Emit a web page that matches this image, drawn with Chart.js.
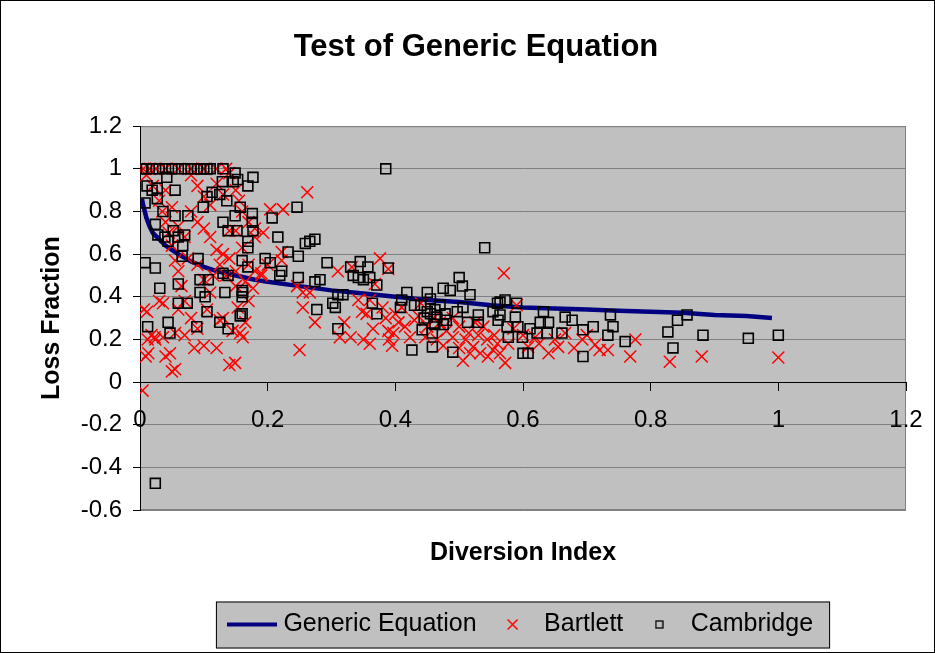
<!DOCTYPE html>
<html>
<head>
<meta charset="utf-8">
<script src="https://cdn.jsdelivr.net/npm/chart.js@4/dist/chart.umd.min.js"></script>
<style>
  html, body { margin: 0; padding: 0; background: #fff; }
  #wrap { width: 935px; height: 653px; }
</style>
</head>
<body>
<div id="wrap"><canvas id="chart" width="935" height="653"></canvas></div>
<script>
// values
var xTicks = [0, 0.2, 0.4, 0.6, 0.8, 1, 1.2];
var yTicks = [-0.6, -0.4, -0.2, 0, 0.2, 0.4, 0.6, 0.8, 1, 1.2];

var generic = [[0.003,0.86],[0.005,0.83],[0.01,0.77],[0.015,0.73],[0.02,0.70],[0.03,0.67],[0.04,0.64],
  [0.05,0.62],[0.06,0.60],[0.08,0.565],[0.10,0.54],[0.12,0.52],[0.15,0.50],[0.18,0.48],[0.20,0.47],
  [0.25,0.45],[0.30,0.43],[0.35,0.415],[0.40,0.40],[0.45,0.385],[0.50,0.375],[0.55,0.36],[0.60,0.35],
  [0.65,0.345],[0.70,0.34],[0.75,0.335],[0.80,0.33],[0.85,0.325],[0.90,0.315],[0.95,0.31],[0.99,0.30]];

var bartlett = [[0.004,-0.04],[0.006,0.34],[0.009,0.12],[0.012,0.20],[0.018,0.22],[0.024,0.2],[0.03,0.38],
  [0.036,0.21],[0.04,0.12],[0.05,0.05],[0.055,0.23],[0.06,0.34],[0.07,0.22],[0.08,0.30],[0.085,0.16],
  [0.09,0.25],[0.1,0.17],[0.105,0.34],[0.11,0.42],[0.12,0.16],[0.125,0.29],[0.13,0.30],[0.135,0.50],
  [0.14,0.08],[0.145,0.24],[0.15,0.45],[0.157,0.23],[0.161,0.21],[0.165,0.28],[0.17,0.38],[0.153,0.35],
  [0.149,0.09],[0.011,0.33],[0.013,0.135],[0.023,0.21],[0.047,0.135],[0.055,0.06],[0.036,0.37],
  [0.005,1],[0.015,1],[0.025,1],[0.04,1],[0.06,1],[0.08,1],[0.1,1],[0.12,1],[0.135,1],
  [0.01,0.97],[0.02,0.92],[0.03,0.85],[0.035,0.8],[0.04,0.75],[0.045,0.7],[0.05,0.64],[0.055,0.57],
  [0.06,0.52],[0.065,0.45],[0.07,0.38],[0.08,0.97],[0.09,0.92],[0.1,0.87],[0.11,0.83],[0.12,0.93],
  [0.13,0.88],[0.14,0.98],[0.15,0.9],[0.155,0.85],[0.16,0.8],[0.17,0.75],[0.18,0.72],[0.08,0.8],
  [0.09,0.75],[0.1,0.72],[0.11,0.68],[0.12,0.62],[0.13,0.6],[0.14,0.71],[0.15,0.71],[0.16,0.63],
  [0.18,0.68],[0.07,0.68],[0.06,0.73],[0.05,0.82],[0.04,0.9],[0.075,0.58],[0.09,0.55],[0.1,0.48],
  [0.115,0.5],[0.125,0.55],[0.14,0.58],[0.15,0.52],[0.165,0.47],[0.17,0.55],[0.18,0.52],[0.19,0.5],
  [0.2,0.55],[0.204,0.81],[0.224,0.81],[0.193,0.7],[0.222,0.61],[0.222,0.57],[0.19,0.51],[0.177,0.44],
  [0.246,0.45],[0.255,0.42],[0.266,0.42],[0.255,0.35],[0.274,0.28],[0.25,0.15],[0.262,0.89],[0.31,0.52],
  [0.332,0.54],[0.342,0.385],[0.32,0.28],[0.313,0.21],[0.33,0.21],[0.348,0.33],[0.35,0.2],
  [0.376,0.58],[0.389,0.53],[0.368,0.46],[0.36,0.385],[0.355,0.32],[0.365,0.25],[0.36,0.18],[0.389,0.24],
  [0.397,0.23],[0.395,0.17],[0.405,0.28],[0.415,0.26],[0.423,0.21],[0.436,0.31],[0.45,0.26],[0.447,0.21],
  [0.465,0.2],[0.48,0.24],[0.475,0.17],[0.49,0.21],[0.5,0.26],[0.51,0.2],[0.517,0.135],[0.522,0.165],
  [0.533,0.135],[0.544,0.2],[0.506,0.1],[0.553,0.15],[0.525,0.28],[0.538,0.26],
  [0.385,0.3],[0.4,0.32],[0.41,0.35],[0.43,0.29],[0.44,0.37],[0.46,0.3],[0.38,0.35],[0.39,0.2],
  [0.47,0.28],[0.49,0.3],[0.5,0.16],[0.515,0.23],[0.53,0.22],
  [0.57,0.51],[0.59,0.36],[0.572,0.09],[0.564,0.135],[0.577,0.18],[0.608,0.165],[0.619,0.21],[0.64,0.135],
  [0.655,0.165],[0.666,0.23],[0.693,0.2],[0.713,0.175],[0.733,0.15],[0.776,0.2],[0.768,0.12],[0.83,0.095],
  [0.88,0.12],[1.0,0.115],[0.585,0.25],[0.6,0.22],[0.625,0.18],[0.65,0.2],[0.68,0.16],[0.7,0.22],
  [0.72,0.15],[0.555,0.22],[0.56,0.18],[0.545,0.12]];

var cambridge = [[0.003,1],[0.01,1],[0.02,1],[0.03,1],[0.04,1],[0.05,1],[0.06,1],[0.07,1],[0.08,1],
  [0.09,1],[0.095,1],[0.1,1],[0.105,1],[0.11,1],[0.13,1],
  [0.011,0.92],[0.027,0.91],[0.042,0.96],[0.055,0.9],[0.008,0.84],[0.027,0.86],[0.019,0.9],[0.036,0.8],
  [0.024,0.74],[0.028,0.69],[0.039,0.68],[0.055,0.78],[0.052,0.71],[0.075,0.78],[0.07,0.69],[0.06,0.68],
  [0.067,0.64],[0.044,0.66],[0.099,0.82],[0.105,0.87],[0.113,0.89],[0.125,0.88],[0.136,0.85],[0.129,0.94],
  [0.146,0.94],[0.149,0.98],[0.157,0.82],[0.149,0.78],[0.138,0.71],[0.152,0.71],[0.13,0.75],[0.091,0.58],
  [0.008,0.56],[0.024,0.535],[0.066,0.59],[0.031,0.44],[0.06,0.46],[0.094,0.48],[0.107,0.48],[0.094,0.42],
  [0.102,0.4],[0.133,0.42],[0.16,0.43],[0.06,0.37],[0.074,0.37],[0.105,0.33],[0.125,0.28],[0.138,0.25],
  [0.16,0.32],[0.012,0.26],[0.044,0.28],[0.047,0.23],[0.089,0.26],[0.13,0.51],[0.138,0.5],
  [0.177,0.96],[0.169,0.92],[0.153,0.95],[0.246,0.82],[0.207,0.77],[0.176,0.79],[0.176,0.75],[0.177,0.71],
  [0.216,0.68],[0.169,0.66],[0.169,0.63],[0.259,0.65],[0.266,0.66],[0.274,0.67],[0.232,0.61],[0.248,0.59],
  [0.196,0.58],[0.204,0.56],[0.16,0.57],[0.169,0.54],[0.222,0.52],[0.219,0.5],[0.248,0.49],[0.274,0.47],
  [0.282,0.48],[0.293,0.56],[0.33,0.54],[0.345,0.565],[0.334,0.5],[0.342,0.49],[0.161,0.42],[0.16,0.4],
  [0.157,0.31],[0.277,0.34],[0.302,0.37],[0.306,0.35],[0.31,0.41],[0.318,0.41],[0.31,0.25],
  [0.385,1.0],[0.54,0.63],[0.024,-0.475],
  [0.357,0.54],[0.389,0.535],[0.35,0.48],[0.36,0.49],[0.371,0.455],[0.418,0.42],[0.45,0.42],[0.475,0.44],
  [0.5,0.49],[0.505,0.45],[0.517,0.41],[0.486,0.43],[0.41,0.385],[0.408,0.35],[0.43,0.36],[0.462,0.34],
  [0.465,0.305],[0.455,0.32],[0.478,0.32],[0.497,0.33],[0.506,0.35],[0.364,0.37],[0.371,0.32],[0.442,0.245],
  [0.458,0.23],[0.462,0.27],[0.475,0.27],[0.513,0.28],[0.53,0.28],[0.53,0.315],[0.426,0.15],[0.458,0.165],
  [0.49,0.14],[0.553,0.33],[0.56,0.37],[0.561,0.29],[0.445,0.3],[0.45,0.33],[0.47,0.36],[0.48,0.29],
  [0.455,0.39],[0.44,0.36],
  [0.564,0.375],[0.572,0.385],[0.59,0.37],[0.564,0.315],[0.575,0.26],[0.577,0.21],[0.588,0.305],[0.592,0.26],
  [0.599,0.21],[0.6,0.135],[0.608,0.135],[0.611,0.25],[0.622,0.23],[0.627,0.28],[0.632,0.33],[0.64,0.28],
  [0.638,0.23],[0.661,0.23],[0.666,0.305],[0.677,0.29],[0.694,0.245],[0.694,0.12],[0.71,0.26],[0.733,0.22],
  [0.741,0.26],[0.737,0.315],[0.76,0.19],[0.827,0.235],[0.835,0.16],[0.842,0.29],[0.857,0.315],[0.882,0.22],
  [0.953,0.205],[1.0,0.22]];

function pts(a) { return a.map(function (p) { return { x: p[0], y: p[1] }; }); }
function num(v) { return String(Math.round(v * 10) / 10); }

// little legend symbols
function sym(w, h, fn) {
  var c = document.createElement('canvas');
  c.width = w; c.height = h;
  fn(c.getContext('2d'));
  return c;
}
var legendSyms = [
  sym(50, 6, function (g) { g.fillStyle = '#000080'; g.fillRect(0, 1, 50, 4); }),
  sym(13, 13, function (g) {
    g.strokeStyle = '#ff0000'; g.lineWidth = 1.5;
    g.beginPath(); g.moveTo(1.5, 1.5); g.lineTo(11.5, 11.5); g.moveTo(11.5, 1.5); g.lineTo(1.5, 11.5); g.stroke();
  }),
  sym(9, 9, function (g) { g.strokeStyle = '#000'; g.lineWidth = 1.3; g.strokeRect(1, 1, 7, 7); })
];

Chart.defaults.font.family = "'Liberation Sans', Arial, sans-serif";
Chart.defaults.color = '#000';

var excelLook = {
  id: 'excelLook',
  afterLayout: function (chart) {
    var lg = chart.legend, a = chart.chartArea;
    var dx = (a.left + a.right) / 2 - (lg.left + lg.right) / 2;
    lg.left += dx; lg.right += dx;
  },
  beforeDraw: function (chart) {
    var ctx = chart.ctx, a = chart.chartArea;
    ctx.save();
    ctx.fillStyle = '#fff';
    ctx.fillRect(0, 0, chart.width, chart.height);
    ctx.strokeStyle = '#000';
    ctx.lineWidth = 1;
    ctx.strokeRect(0.5, 0.5, chart.width - 1, chart.height - 1);
    ctx.fillStyle = '#c0c0c0';
    ctx.fillRect(a.left, a.top, a.right - a.left, a.bottom - a.top);
    ctx.strokeStyle = '#808080';
    ctx.strokeRect(a.left + 0.5, a.top + 0.5, a.right - a.left - 1, a.bottom - a.top - 1);
    var hb = chart.legend.legendHitBoxes;
    if (hb && hb.length) {
      var last = hb[hb.length - 1];
      var l = hb[0].left - 17, r = last.left + last.width + 17;
      var t = hb[0].top + hb[0].height / 2 - 23;
      ctx.fillStyle = '#c0c0c0';
      ctx.fillRect(l, t, r - l, 47);
      ctx.strokeStyle = '#000';
      ctx.strokeRect(l + 0.5, t + 0.5, r - l - 1, 46);
    }
    ctx.restore();
  }
};

new Chart(document.getElementById('chart'), {
  type: 'scatter',
  data: {
    datasets: [{
      label: 'Generic Equation',
      data: pts(generic),
      xAxisID: 'x', yAxisID: 'y',
      showLine: true,
      borderColor: '#000080',
      backgroundColor: '#000080',
      borderWidth: 4.5,
      pointRadius: 0,
      order: 3
    }, {
      label: 'Bartlett',
      data: pts(bartlett),
      xAxisID: 'x', yAxisID: 'y',
      pointStyle: 'crossRot',
      pointRadius: 8.5,
      borderColor: '#ff0000',
      backgroundColor: '#ff0000',
      borderWidth: 1.5,
      order: 2
    }, {
      label: 'Cambridge',
      data: pts(cambridge),
      xAxisID: 'x', yAxisID: 'y',
      pointStyle: 'rect',
      pointRadius: 7,
      borderColor: '#000',
      backgroundColor: 'rgba(0,0,0,0)',
      borderWidth: 1.6,
      order: 1
    }]
  },
  options: {
    responsive: false,
    animation: false,
    devicePixelRatio: 1,
    layout: { padding: { left: 17, right: 0, top: 0, bottom: 6 } },
    plugins: {
      tooltip: { enabled: false },
      title: {
        display: true,
        text: 'Test of Generic Equation',
        font: { size: 31, weight: 'bold' },
        color: '#000',
        padding: { top: 29, bottom: 60 }
      },
      legend: {
        position: 'bottom',
        labels: {
          usePointStyle: true,
          pointStyleWidth: 38,
          boxHeight: 10,
          padding: 17,
          font: { size: 25 },
          color: '#000',
          sort: function (a, b) { return a.datasetIndex - b.datasetIndex; },
          generateLabels: function (chart) {
            var items = Chart.defaults.plugins.legend.labels.generateLabels(chart);
            items.forEach(function (it) { it.pointStyle = legendSyms[it.datasetIndex]; });
            return items;
          }
        }
      }
    },
    scales: {
      x: {
        type: 'linear',
        position: { y: 0 },
        min: 0, max: 1.2,
        afterBuildTicks: function (s) { s.ticks = xTicks.map(function (v) { return { value: v }; }); },
        afterFit: function (s) { s.paddingLeft = 0; s.paddingRight = 0; },
        grid: { drawOnChartArea: false, drawTicks: true, tickLength: 8, color: '#000' },
        border: { display: true, color: '#000', width: 1 },
        ticks: { font: { size: 24 }, color: '#000', padding: 16, maxRotation: 0, autoSkip: false, callback: num }
      },
      x2: {
        type: 'linear',
        position: 'bottom',
        grid: { display: false, drawTicks: false },
        border: { display: false },
        ticks: { display: false },
        title: {
          display: true,
          text: 'Diversion Index',
          font: { size: 25, weight: 'bold' },
          color: '#000',
          padding: { top: 28, bottom: 27 }
        }
      },
      y: {
        type: 'linear',
        position: 'left',
        min: -0.6, max: 1.2,
        afterBuildTicks: function (s) { s.ticks = yTicks.map(function (v) { return { value: v }; }); },
        afterFit: function (s) { s.width = 123; },
        grid: { color: '#808080', tickColor: '#000', tickLength: 7, lineWidth: 1 },
        border: { display: true, color: '#000', width: 1 },
        ticks: { font: { size: 24 }, color: '#000', padding: 11, autoSkip: false, callback: num },
        title: {
          display: true,
          text: 'Loss Fraction',
          font: { size: 25, weight: 'bold' },
          color: '#000',
          padding: { top: 20, bottom: 0 }
        }
      },
      y2: {
        type: 'linear',
        position: 'right',
        grid: { display: false, drawTicks: false },
        border: { display: false },
        ticks: { display: false },
        afterFit: function (s) { s.width = 29; }
      }
    }
  },
  plugins: [excelLook]
});
</script>
</body>
</html>
